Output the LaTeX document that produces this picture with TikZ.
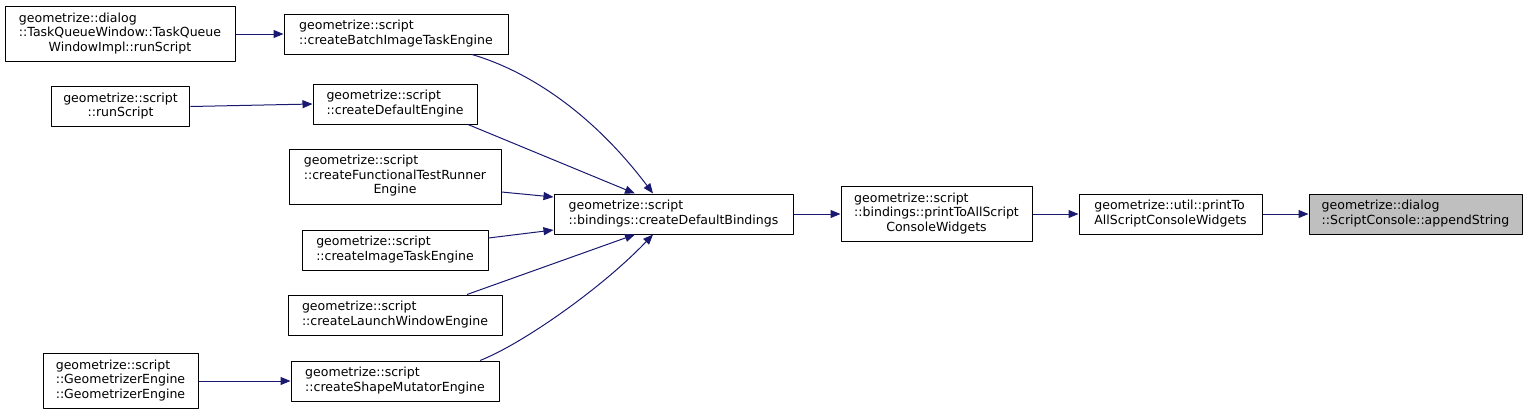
\documentclass[tikz,border=0pt]{standalone}
\usepackage{fontspec}
\setmainfont{DejaVu Sans}
\usetikzlibrary{arrows.meta,calc}
\definecolor{edgeblue}{HTML}{191970}
\definecolor{hitgray}{HTML}{BFBFBF}
\newcommand{\fn}[1]{\begin{tabular}{@{}l@{}}#1\end{tabular}}
\newcommand{\lastln}[1]{\multicolumn{1}{@{}c@{}}{#1}}
\tikzset{
  fnbox/.style={draw=black, line width=0.75pt, inner sep=0pt, fill=white},
  call/.style={draw=edgeblue, line width=0.75pt, -{Triangle[length=7.5pt,width=6pt]}},
}
\begin{document}
\begin{tikzpicture}[x=0.75pt, y=-0.75pt, font=\fontsize{9.4}{10.9}\selectfont, line join=round]
  \useasboundingbox (0,0) rectangle (1528,415);
  \path
  (120,34) node[fnbox, minimum width=172.5pt, minimum height=41.25pt] (A)
    {\fn{geometrize::dialog\\::TaskQueueWindow::TaskQueue\\\lastln{WindowImpl::runScript}}}
  (396,34) node[fnbox, minimum width=168pt, minimum height=30pt] (B)
    {\fn{geometrize::script\\::createBatchImageTaskEngine}}
  (120.5,106.5) node[fnbox, minimum width=104pt, minimum height=30pt] (C)
    {\fn{geometrize::script\\\lastln{::runScript}}}
  (395,104) node[fnbox, minimum width=123pt, minimum height=30pt] (D)
    {\fn{geometrize::script\\::createDefaultEngine}}
  (395,176.5) node[fnbox, minimum width=159pt, minimum height=41.25pt] (E)
    {\fn{geometrize::script\\::createFunctionalTestRunner\\\lastln{Engine}}}
  (395,250) node[fnbox, minimum width=139.5pt, minimum height=30pt] (F)
    {\fn{geometrize::script\\::createImageTaskEngine}}
  (395,315) node[fnbox, minimum width=160.5pt, minimum height=30pt] (G)
    {\fn{geometrize::script\\::createLaunchWindowEngine}}
  (395,381) node[fnbox, minimum width=156pt, minimum height=30pt] (H)
    {\fn{geometrize::script\\::createShapeMutatorEngine}}
  (120.5,381) node[fnbox, minimum width=116.25pt, minimum height=41.25pt] (I)
    {\fn{geometrize::script\\::GeometrizerEngine\\::GeometrizerEngine}}
  (673.5,214) node[fnbox, minimum width=179.25pt, minimum height=30pt] (J)
    {\fn{geometrize::script\\::bindings::createDefaultBindings}}
  (936.5,214) node[fnbox, minimum width=143.25pt, minimum height=41.25pt] (K)
    {\fn{geometrize::script\\::bindings::printToAllScript\\\lastln{ConsoleWidgets}}}
  (1170.5,214) node[fnbox, minimum width=137.25pt, minimum height=30pt] (L)
    {\fn{geometrize::util::printTo\\AllScriptConsoleWidgets}}
  (1415.5,214) node[fnbox, fill=hitgray, minimum width=159.75pt, minimum height=30pt] (M)
    {\fn{geometrize::dialog\\::ScriptConsole::appendString}}
  ;
  % straight calls
  \foreach \i/\j in {A/B, C/D, I/H, J/K, K/L, L/M}{
    \draw[call] (\i.east) -- (\j.west);
  }
  \draw[call] ($(E.east)+(0,15.5)$) -- ($(J.west)+(0,-17)$);
  \draw[call] ($(F.east)+(0,-12)$) -- ($(J.west)+(0,16)$);
  \draw[call] ($(D.south)+(73,0)$) -- ($(J.north)+(-38.5,0)$);
  \draw[call] ($(G.north)+(72,0)$) -- ($(J.south)+(-38.5,0)$);
  % bent ones
  \draw[call] ($(B.south)+(76,0)$) .. controls (525,70) and (590,110) .. ($(J.north)+(-20.5,0)$);
  \draw[call] ($(H.north)+(85,0)$) .. controls (520,345) and (600,290) .. ($(J.south)+(-20.5,0)$);
\end{tikzpicture}
\end{document}
